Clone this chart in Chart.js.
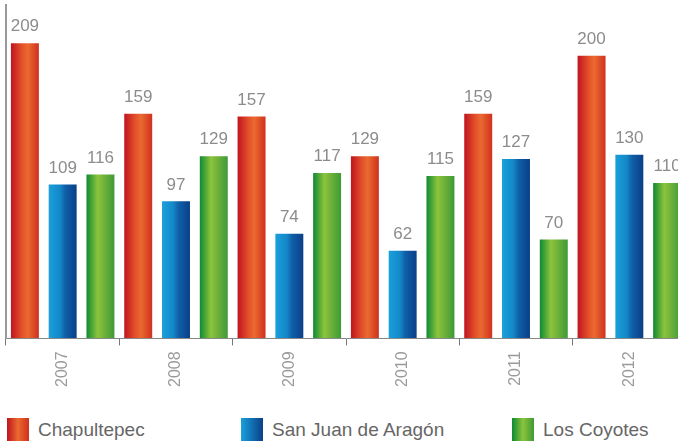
<!DOCTYPE html>
<html lang="es">
<head>
  <meta charset="UTF-8" />
  <title>Visitantes por parque</title>
  <script src="https://cdn.jsdelivr.net/npm/chart.js"></script>
  <style>
    html, body {
      margin: 0;
      padding: 0;
      background: #fff;
      overflow: hidden;
      font-family: 'Liberation Sans', Arial, sans-serif;
    }
    #wrap {
      position: relative;
      width: 686px;
      height: 400px;
    }
    canvas { display: block; }
    .legend {
      position: absolute;
      top: 418px;
      left: 0;
      width: 678px;
      height: 25px;
    }
    .legend span {
      position: absolute;
      top: 0;
      font-size: 19px;
      color: #666;
      line-height: 23px;
      white-space: nowrap;
    }
    .legend i {
      display: inline-block;
      width: 22px;
      height: 23px;
      vertical-align: top;
      margin-right: 9px;
    }
  </style>
</head>
<body>
  <div id="wrap"><canvas id="chart" width="686" height="400"></canvas></div>
  <div class="legend" id="legend"></div>

  <script>
    const years = ['2007', '2008', '2009', '2010', '2011', '2012'];
    const seriesNames = ['Chapultepec', 'San Juan de Aragón', 'Los Coyotes'];
    const chapultepec = [209, 159, 157, 129, 159, 200];
    const sanJuan = [109, 97, 74, 62, 127, 130];
    const coyotes = [116, 129, 117, 115, 70, 110];

    // gradient stops per series (left -> right across each bar)
    const stops = [
      ['#c0141f', '#e4512a', '#ea6a30', '#d0301e'],
      ['#1aa0dc', '#1488c8', '#0f5fa8', '#0a3f88'],
      ['#0e8a34', '#8cc43c', '#74b43a', '#3e9a36']
    ];
    const legendColors = [
      'linear-gradient(90deg,#c0141f,#ea6a30,#d0301e)',
      'linear-gradient(90deg,#1aa0dc,#0a3f88)',
      'linear-gradient(90deg,#0e8a34,#8cc43c,#3e9a36)'
    ];
    const legendLeft = [7, 241, 512];

    const catPct = 1.0;
    const barPct = 0.74;

    function barFill(ctx) {
      const chart = ctx.chart;
      const ds = ctx.datasetIndex;
      const x = chart.scales && chart.scales.x;
      if (!chart.chartArea || !x || ctx.dataIndex === undefined) return stops[ds][1];
      const groupW = (x.right - x.left) / years.length;
      const slot = groupW * catPct / 3;
      const center = x.getPixelForValue(ctx.dataIndex) + (ds - 1) * slot;
      const half = slot * barPct / 2;
      const g = chart.ctx.createLinearGradient(center - half, 0, center + half, 0);
      const s = stops[ds];
      g.addColorStop(0, s[0]);
      g.addColorStop(0.4, s[1]);
      g.addColorStop(0.6, s[2]);
      g.addColorStop(1, s[3]);
      return g;
    }

    const valueLabels = {
      id: 'valueLabels',
      afterDatasetsDraw(chart) {
        const c = chart.ctx;
        c.save();
        c.font = '17px "Liberation Sans", Arial, sans-serif';
        c.fillStyle = '#8c8c8c';
        c.textAlign = 'center';
        c.textBaseline = 'bottom';
        chart.data.datasets.forEach((d, i) => {
          chart.getDatasetMeta(i).data.forEach((bar, j) => {
            c.fillText(d.data[j], bar.x, bar.y - 8);
          });
        });
        c.restore();
      }
    };

    const legend = document.getElementById('legend');
    seriesNames.forEach((name, i) => {
      const s = document.createElement('span');
      s.style.left = legendLeft[i] + 'px';
      s.innerHTML = '<i style="background:' + legendColors[i] + '"></i>' + name;
      legend.appendChild(s);
    });

    new Chart(document.getElementById('chart'), {
      type: 'bar',
      data: {
        labels: years,
        datasets: [chapultepec, sanJuan, coyotes].map((vals, i) => ({
          label: seriesNames[i],
          data: vals,
          backgroundColor: barFill,
          borderWidth: 0,
          categoryPercentage: catPct,
          barPercentage: barPct
        }))
      },
      options: {
        responsive: false,
        animation: false,
        devicePixelRatio: 1,
        layout: { padding: { left: 6, top: 5, right: 0, bottom: 7 } },
        plugins: {
          legend: { display: false },
          tooltip: { enabled: false }
        },
        scales: {
          x: {
            grid: {
              offset: true,
              drawOnChartArea: false,
              tickLength: 7,
              color: '#777'
            },
            border: { color: '#888', width: 1 },
            ticks: {
              minRotation: 90,
              maxRotation: 90,
              padding: 6,
              color: '#9a9a9a',
              font: { family: '"Liberation Sans", Arial, sans-serif', size: 16 }
            }
          },
          y: {
            min: 0,
            max: 236,
            grid: { drawOnChartArea: false, drawTicks: false },
            border: { color: '#999', width: 2 },
            ticks: { display: false }
          }
        }
      },
      plugins: [valueLabels]
    });
  </script>
</body>
</html>
